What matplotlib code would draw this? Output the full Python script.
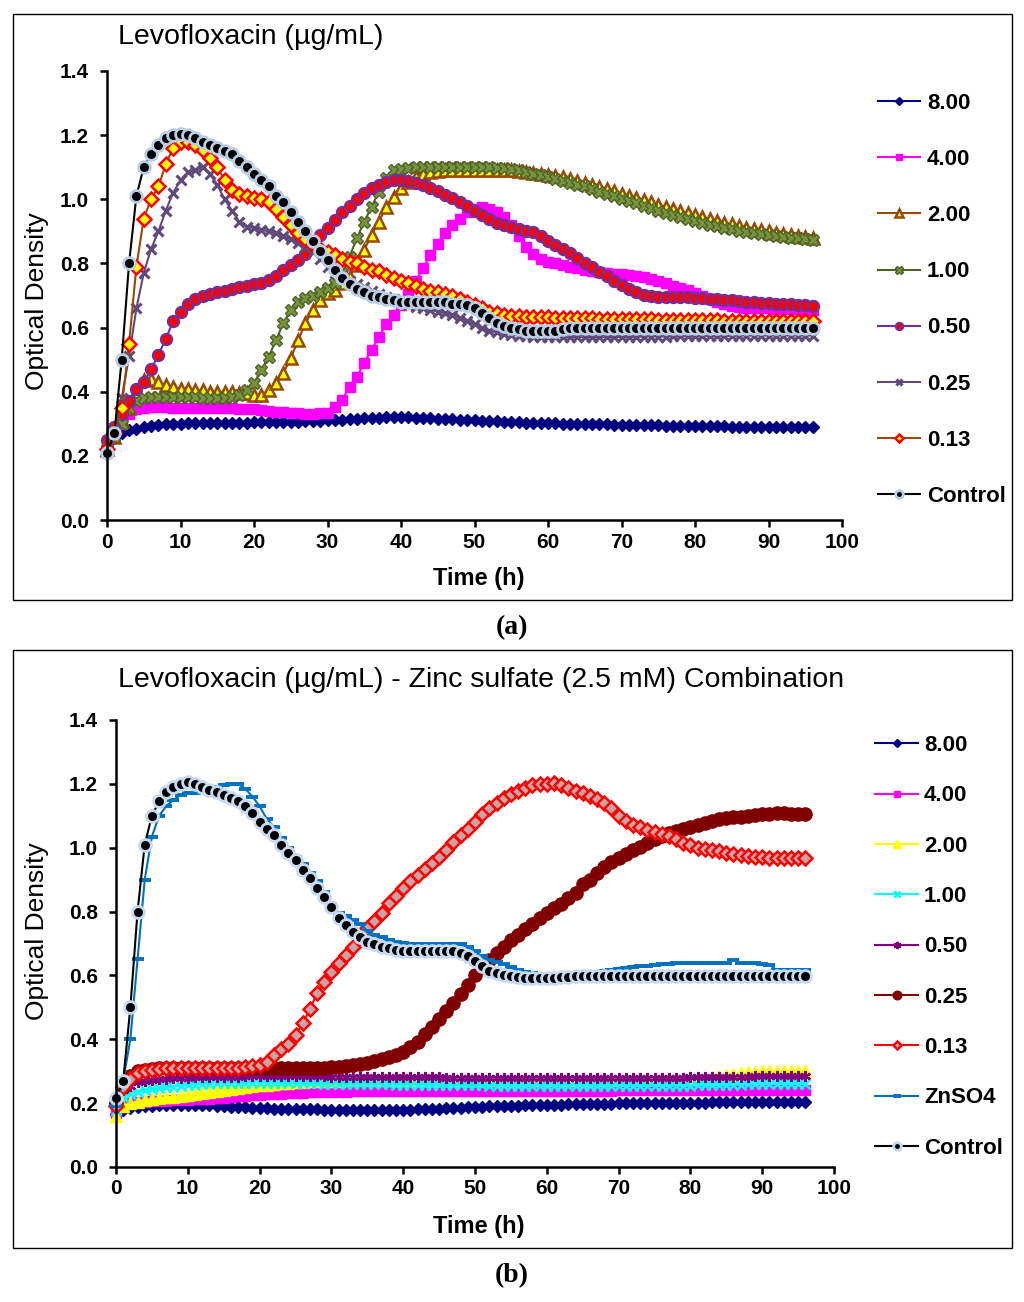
import matplotlib
matplotlib.use("Agg")
import matplotlib.pyplot as plt
from matplotlib.patches import Rectangle

plt.rcParams['font.family'] = ['Liberation Sans', 'DejaVu Sans']

hours = list(range(0, 97))

# ---------------- panel (a): levofloxacin alone ----------------
a_labels = ['8.00', '4.00', '2.00', '1.00', '0.50', '0.25', '0.13', 'Control']

a_800 = [0.23, 0.255, 0.27, 0.28, 0.285, 0.29, 0.293, 0.296, 0.298, 0.30,
         0.30, 0.301, 0.302, 0.302, 0.303, 0.303, 0.303, 0.304, 0.304, 0.304,
         0.305, 0.305, 0.305, 0.305, 0.306, 0.306, 0.307, 0.308, 0.309, 0.31,
         0.311, 0.312, 0.313, 0.315, 0.316, 0.317, 0.318, 0.319, 0.32, 0.32,
         0.32, 0.32, 0.319, 0.318, 0.317, 0.316, 0.315, 0.314, 0.313, 0.312,
         0.311, 0.31, 0.309, 0.308, 0.307, 0.306, 0.305, 0.304, 0.303, 0.302,
         0.302, 0.301, 0.30, 0.30, 0.30, 0.299, 0.299, 0.298, 0.298, 0.297,
         0.297, 0.296, 0.296, 0.295, 0.295, 0.295, 0.294, 0.294, 0.294, 0.293,
         0.293, 0.293, 0.292, 0.292, 0.292, 0.291, 0.291, 0.291, 0.29, 0.29,
         0.29, 0.29, 0.29, 0.29, 0.29, 0.29, 0.29]

a_400 = [0.23, 0.26, 0.30, 0.33, 0.345, 0.35, 0.352, 0.352, 0.352, 0.35,
         0.35, 0.35, 0.35, 0.35, 0.35, 0.35, 0.35, 0.348, 0.347, 0.346,
         0.345, 0.343, 0.34, 0.338, 0.336, 0.334, 0.333, 0.332, 0.332, 0.333,
         0.335, 0.352, 0.374, 0.416, 0.447, 0.49, 0.53, 0.572, 0.61, 0.64,
         0.67, 0.705, 0.745, 0.785, 0.825, 0.86, 0.895, 0.92, 0.94, 0.96,
         0.97, 0.975, 0.97, 0.96, 0.945, 0.92, 0.885, 0.852, 0.83, 0.815,
         0.805, 0.80, 0.795, 0.79, 0.785, 0.78, 0.777, 0.774, 0.771, 0.768,
         0.766, 0.764, 0.761, 0.757, 0.752, 0.746, 0.738, 0.73, 0.724, 0.718,
         0.708, 0.698, 0.688, 0.679, 0.672, 0.667, 0.664, 0.662, 0.661, 0.66,
         0.66, 0.659, 0.658, 0.658, 0.657, 0.656, 0.655]

a_200 = [0.22, 0.26, 0.31, 0.35, 0.40, 0.435, 0.44, 0.43, 0.42, 0.415,
         0.41, 0.41, 0.405, 0.405, 0.40, 0.40, 0.40, 0.40, 0.395, 0.395,
         0.39, 0.39, 0.405, 0.427, 0.458, 0.505, 0.56, 0.613, 0.655, 0.686,
         0.707, 0.717, 0.738, 0.759, 0.795, 0.842, 0.889, 0.93, 0.977, 1.008,
         1.035, 1.055, 1.07, 1.08, 1.085, 1.088, 1.09, 1.09, 1.09, 1.09,
         1.09, 1.09, 1.09, 1.09, 1.09, 1.09, 1.088, 1.086, 1.083, 1.08,
         1.076, 1.072, 1.068, 1.063, 1.058, 1.052, 1.046, 1.039, 1.032, 1.025,
         1.018, 1.011, 1.004, 0.997, 0.99, 0.983, 0.976, 0.969, 0.962, 0.956,
         0.95, 0.944, 0.938, 0.932, 0.927, 0.922, 0.917, 0.912, 0.908, 0.904,
         0.90, 0.896, 0.892, 0.889, 0.886, 0.883, 0.88]

a_100 = [0.22, 0.26, 0.30, 0.35, 0.37, 0.38, 0.385, 0.385, 0.385, 0.385,
         0.385, 0.383, 0.382, 0.38, 0.38, 0.38, 0.38, 0.382, 0.39, 0.405,
         0.427, 0.468, 0.509, 0.561, 0.614, 0.655, 0.68, 0.692, 0.70, 0.712,
         0.723, 0.738, 0.77, 0.821, 0.879, 0.93, 0.977, 1.024, 1.066, 1.09,
         1.095, 1.098, 1.10, 1.10, 1.10, 1.10, 1.10, 1.10, 1.10, 1.10,
         1.10, 1.10, 1.10, 1.098, 1.096, 1.093, 1.09, 1.086, 1.08, 1.075,
         1.07, 1.064, 1.058, 1.052, 1.046, 1.04, 1.032, 1.024, 1.017, 1.01,
         1.002, 0.994, 0.987, 0.98, 0.972, 0.965, 0.958, 0.951, 0.945, 0.938,
         0.932, 0.926, 0.921, 0.916, 0.911, 0.907, 0.902, 0.898, 0.894, 0.891,
         0.888, 0.885, 0.882, 0.88, 0.878, 0.876, 0.874]

a_050 = [0.25, 0.29, 0.33, 0.37, 0.41, 0.43, 0.47, 0.515, 0.565, 0.62,
         0.65, 0.675, 0.69, 0.70, 0.705, 0.71, 0.715, 0.72, 0.725, 0.73,
         0.735, 0.74, 0.748, 0.76, 0.78, 0.795, 0.81, 0.83, 0.865, 0.89,
         0.91, 0.935, 0.96, 0.98, 1.00, 1.02, 1.035, 1.045, 1.055, 1.06,
         1.06, 1.058, 1.052, 1.046, 1.036, 1.025, 1.014, 1.003, 0.993, 0.978,
         0.964, 0.951, 0.937, 0.927, 0.92, 0.915, 0.907, 0.902, 0.898, 0.884,
         0.87, 0.857, 0.845, 0.834, 0.817, 0.802, 0.788, 0.774, 0.761, 0.746,
         0.733, 0.719, 0.71, 0.702, 0.697, 0.695, 0.695, 0.696, 0.695, 0.694,
         0.693, 0.692, 0.69, 0.688, 0.686, 0.685, 0.683, 0.681, 0.68, 0.678,
         0.677, 0.675, 0.674, 0.672, 0.671, 0.67, 0.668]

a_025 = [0.23, 0.28, 0.38, 0.51, 0.66, 0.77, 0.845, 0.90, 0.965, 1.02,
         1.06, 1.085, 1.09, 1.10, 1.08, 1.045, 1.00, 0.965, 0.93, 0.915,
         0.91, 0.905, 0.90, 0.895, 0.885, 0.875, 0.865, 0.85, 0.835, 0.815,
         0.79, 0.77, 0.76, 0.745, 0.735, 0.725, 0.715, 0.705, 0.695, 0.69,
         0.68, 0.67, 0.665, 0.66, 0.655, 0.65, 0.645, 0.64, 0.63, 0.62,
         0.61, 0.60, 0.59, 0.585, 0.58, 0.578, 0.575, 0.573, 0.572, 0.572,
         0.571, 0.57, 0.57, 0.57, 0.57, 0.57, 0.57, 0.57, 0.57, 0.57,
         0.571, 0.571, 0.571, 0.572, 0.572, 0.572, 0.572, 0.573, 0.573, 0.573,
         0.573, 0.574, 0.574, 0.574, 0.574, 0.574, 0.575, 0.575, 0.575, 0.575,
         0.575, 0.575, 0.575, 0.575, 0.575, 0.575, 0.575]

a_013 = [0.22, 0.27, 0.35, 0.55, 0.79, 0.94, 1.00, 1.04, 1.11, 1.16,
         1.18, 1.18, 1.17, 1.155, 1.13, 1.10, 1.06, 1.03, 1.015, 1.01,
         1.005, 1.00, 0.99, 0.97, 0.945, 0.92, 0.895, 0.875, 0.86, 0.845,
         0.835, 0.825, 0.815, 0.805, 0.80, 0.79, 0.78, 0.775, 0.765, 0.755,
         0.745, 0.74, 0.73, 0.72, 0.715, 0.71, 0.705, 0.70, 0.69, 0.68,
         0.67, 0.66, 0.65, 0.645, 0.64, 0.637, 0.635, 0.634, 0.633, 0.632,
         0.632, 0.631, 0.63, 0.63, 0.63, 0.629, 0.629, 0.628, 0.628, 0.628,
         0.627, 0.627, 0.626, 0.626, 0.626, 0.625, 0.625, 0.625, 0.625, 0.624,
         0.624, 0.623, 0.623, 0.623, 0.622, 0.622, 0.622, 0.621, 0.621, 0.621,
         0.62, 0.62, 0.62, 0.62, 0.62, 0.62, 0.62]

a_ctrl = [0.21, 0.27, 0.50, 0.80, 1.01, 1.10, 1.14, 1.17, 1.19, 1.20,
          1.205, 1.20, 1.19, 1.18, 1.17, 1.16, 1.15, 1.14, 1.12, 1.10,
          1.08, 1.06, 1.04, 1.01, 0.99, 0.96, 0.93, 0.90, 0.87, 0.84,
          0.81, 0.78, 0.755, 0.735, 0.72, 0.71, 0.70, 0.695, 0.69, 0.685,
          0.68, 0.68, 0.68, 0.68, 0.68, 0.68, 0.68, 0.675, 0.675, 0.67,
          0.66, 0.645, 0.63, 0.615, 0.605, 0.60, 0.595, 0.59, 0.59, 0.59,
          0.59, 0.59, 0.595, 0.60, 0.60, 0.60, 0.60, 0.60, 0.60, 0.60,
          0.60, 0.60, 0.60, 0.60, 0.60, 0.60, 0.60, 0.60, 0.60, 0.60,
          0.60, 0.60, 0.60, 0.60, 0.60, 0.60, 0.60, 0.60, 0.60, 0.60,
          0.60, 0.60, 0.60, 0.60, 0.60, 0.60, 0.60]

# ---------------- panel (b): levofloxacin + zinc sulfate ----------------
b_labels = ['8.00', '4.00', '2.00', '1.00', '0.50', '0.25', '0.13', 'ZnSO4', 'Control']

b_800 = [0.165, 0.18, 0.185, 0.188, 0.19, 0.192, 0.193, 0.194, 0.195, 0.195,
         0.195, 0.195, 0.194, 0.193, 0.192, 0.19, 0.189, 0.188, 0.187, 0.186,
         0.185, 0.184, 0.183, 0.183, 0.182, 0.182, 0.182, 0.181, 0.181, 0.18,
         0.18, 0.18, 0.18, 0.18, 0.18, 0.18, 0.18, 0.18, 0.18, 0.18,
         0.18, 0.18, 0.181, 0.181, 0.182, 0.183, 0.184, 0.185, 0.186, 0.187,
         0.188, 0.189, 0.19, 0.19, 0.191, 0.192, 0.192, 0.193, 0.193, 0.194,
         0.194, 0.195, 0.195, 0.196, 0.196, 0.197, 0.197, 0.198, 0.198, 0.198,
         0.199, 0.199, 0.199, 0.20, 0.20, 0.20, 0.20, 0.201, 0.201, 0.201,
         0.202, 0.202, 0.202, 0.203, 0.203, 0.203, 0.204, 0.204, 0.204, 0.204,
         0.205, 0.205, 0.205, 0.205, 0.205, 0.205, 0.205]

b_400 = [0.17, 0.19, 0.20, 0.203, 0.205, 0.206, 0.207, 0.208, 0.209, 0.21,
         0.211, 0.212, 0.213, 0.214, 0.215, 0.217, 0.219, 0.221, 0.223, 0.225,
         0.227, 0.228, 0.229, 0.23, 0.231, 0.232, 0.233, 0.234, 0.235, 0.235,
         0.236, 0.236, 0.236, 0.237, 0.237, 0.237, 0.237, 0.238, 0.238, 0.238,
         0.238, 0.238, 0.238, 0.238, 0.238, 0.238, 0.238, 0.238, 0.238, 0.238,
         0.238, 0.238, 0.238, 0.238, 0.238, 0.238, 0.238, 0.238, 0.238, 0.238,
         0.238, 0.239, 0.239, 0.239, 0.239, 0.239, 0.239, 0.239, 0.239, 0.239,
         0.24, 0.24, 0.24, 0.24, 0.24, 0.24, 0.24, 0.24, 0.24, 0.24,
         0.24, 0.24, 0.24, 0.24, 0.24, 0.24, 0.24, 0.24, 0.24, 0.24,
         0.24, 0.24, 0.24, 0.24, 0.24, 0.24, 0.24]

b_200 = [0.16, 0.19, 0.20, 0.205, 0.21, 0.212, 0.215, 0.218, 0.22, 0.223,
         0.226, 0.229, 0.232, 0.235, 0.238, 0.241, 0.244, 0.247, 0.25, 0.253,
         0.256, 0.258, 0.26, 0.262, 0.264, 0.266, 0.267, 0.268, 0.269, 0.27,
         0.27, 0.27, 0.271, 0.271, 0.271, 0.272, 0.272, 0.272, 0.272, 0.272,
         0.272, 0.272, 0.272, 0.272, 0.272, 0.272, 0.272, 0.272, 0.272, 0.272,
         0.273, 0.273, 0.273, 0.273, 0.273, 0.273, 0.273, 0.273, 0.273, 0.273,
         0.274, 0.274, 0.274, 0.274, 0.274, 0.274, 0.274, 0.274, 0.274, 0.274,
         0.275, 0.275, 0.275, 0.275, 0.275, 0.275, 0.275, 0.275, 0.275, 0.275,
         0.276, 0.278, 0.28, 0.283, 0.286, 0.289, 0.292, 0.294, 0.296, 0.298,
         0.30, 0.30, 0.301, 0.302, 0.302, 0.302, 0.30]

b_100 = [0.18, 0.22, 0.23, 0.235, 0.24, 0.243, 0.246, 0.25, 0.252, 0.255,
         0.256, 0.258, 0.26, 0.26, 0.262, 0.262, 0.263, 0.263, 0.264, 0.264,
         0.264, 0.264, 0.264, 0.263, 0.263, 0.263, 0.262, 0.262, 0.262, 0.261,
         0.261, 0.261, 0.26, 0.26, 0.26, 0.26, 0.259, 0.259, 0.259, 0.258,
         0.258, 0.258, 0.258, 0.257, 0.257, 0.257, 0.257, 0.256, 0.256, 0.256,
         0.256, 0.256, 0.255, 0.255, 0.255, 0.255, 0.255, 0.255, 0.255, 0.255,
         0.255, 0.255, 0.255, 0.255, 0.255, 0.255, 0.255, 0.255, 0.255, 0.255,
         0.255, 0.255, 0.255, 0.255, 0.255, 0.255, 0.255, 0.255, 0.255, 0.255,
         0.255, 0.256, 0.256, 0.256, 0.257, 0.257, 0.258, 0.258, 0.259, 0.259,
         0.26, 0.26, 0.26, 0.26, 0.26, 0.26, 0.26]

b_050 = [0.19, 0.24, 0.255, 0.265, 0.27, 0.272, 0.275, 0.277, 0.278, 0.28,
         0.28, 0.281, 0.281, 0.282, 0.282, 0.283, 0.283, 0.283, 0.284, 0.284,
         0.284, 0.284, 0.284, 0.284, 0.284, 0.284, 0.284, 0.284, 0.284, 0.284,
         0.283, 0.283, 0.283, 0.283, 0.283, 0.283, 0.282, 0.282, 0.282, 0.282,
         0.282, 0.281, 0.281, 0.281, 0.281, 0.281, 0.28, 0.28, 0.28, 0.28,
         0.28, 0.28, 0.28, 0.28, 0.28, 0.28, 0.28, 0.28, 0.28, 0.28,
         0.28, 0.28, 0.28, 0.28, 0.28, 0.28, 0.28, 0.28, 0.28, 0.28,
         0.28, 0.28, 0.28, 0.28, 0.28, 0.28, 0.28, 0.28, 0.28, 0.28,
         0.281, 0.281, 0.281, 0.282, 0.282, 0.282, 0.283, 0.283, 0.283, 0.284,
         0.284, 0.284, 0.284, 0.284, 0.284, 0.284, 0.284]

b_025 = [0.20, 0.25, 0.285, 0.30, 0.305, 0.308, 0.31, 0.31, 0.31, 0.31,
         0.31, 0.31, 0.31, 0.31, 0.31, 0.31, 0.31, 0.31, 0.31, 0.31,
         0.31, 0.31, 0.31, 0.31, 0.31, 0.31, 0.31, 0.31, 0.31, 0.31,
         0.312, 0.314, 0.316, 0.318, 0.322, 0.326, 0.332, 0.338, 0.345, 0.352,
         0.36, 0.375, 0.39, 0.415, 0.44, 0.465, 0.49, 0.515, 0.542, 0.57,
         0.60, 0.625, 0.648, 0.67, 0.69, 0.71, 0.728, 0.745, 0.762, 0.78,
         0.795, 0.81, 0.825, 0.842, 0.858, 0.885, 0.90, 0.92, 0.94, 0.955,
         0.968, 0.98, 0.992, 1.003, 1.015, 1.027, 1.037, 1.045, 1.053, 1.06,
         1.066, 1.072, 1.077, 1.083, 1.09, 1.093, 1.095, 1.097, 1.10, 1.103,
         1.105, 1.107, 1.108, 1.108, 1.107, 1.106, 1.105]

b_013 = [0.19, 0.25, 0.275, 0.295, 0.30, 0.305, 0.308, 0.31, 0.31, 0.31,
         0.31, 0.31, 0.31, 0.31, 0.31, 0.31, 0.31, 0.31, 0.312, 0.315,
         0.32, 0.33, 0.35, 0.37, 0.385, 0.413, 0.45, 0.494, 0.544, 0.58,
         0.612, 0.638, 0.664, 0.69, 0.721, 0.75, 0.77, 0.794, 0.826, 0.85,
         0.875, 0.895, 0.915, 0.933, 0.951, 0.972, 0.993, 1.019, 1.04, 1.06,
         1.082, 1.105, 1.125, 1.14, 1.157, 1.168, 1.179, 1.188, 1.195, 1.198,
         1.20, 1.204, 1.197, 1.188, 1.178, 1.17, 1.163, 1.152, 1.14, 1.125,
         1.10, 1.085, 1.072, 1.064, 1.057, 1.05, 1.044, 1.036, 1.026, 1.016,
         1.007, 0.999, 0.996, 0.993, 0.99, 0.985, 0.981, 0.978, 0.974, 0.971,
         0.97, 0.969, 0.969, 0.968, 0.968, 0.968, 0.968]

b_zn = [0.19, 0.27, 0.40, 0.65, 0.90, 1.035, 1.10, 1.13, 1.15, 1.165,
        1.17, 1.17, 1.175, 1.185, 1.19, 1.195, 1.20, 1.20, 1.185, 1.16,
        1.13, 1.09, 1.065, 1.03, 1.00, 0.97, 0.95, 0.92, 0.895, 0.86,
        0.825, 0.795, 0.785, 0.775, 0.76, 0.74, 0.728, 0.72, 0.712, 0.706,
        0.703, 0.70, 0.70, 0.70, 0.70, 0.70, 0.70, 0.70, 0.70, 0.69,
        0.675, 0.66, 0.648, 0.642, 0.635, 0.625, 0.618, 0.612, 0.608, 0.606,
        0.604, 0.602, 0.601, 0.602, 0.604, 0.606, 0.608, 0.61, 0.613, 0.616,
        0.619, 0.622, 0.625, 0.628, 0.631, 0.633, 0.635, 0.637, 0.638, 0.639,
        0.64, 0.64, 0.64, 0.64, 0.64, 0.64, 0.648, 0.64, 0.64, 0.638,
        0.636, 0.634, 0.617, 0.617, 0.617, 0.617, 0.617]

b_ctrl = [0.215, 0.27, 0.50, 0.80, 1.01, 1.10, 1.145, 1.175, 1.19, 1.20,
          1.205, 1.20, 1.19, 1.18, 1.175, 1.165, 1.155, 1.145, 1.13, 1.11,
          1.08, 1.06, 1.04, 1.01, 0.985, 0.96, 0.93, 0.905, 0.875, 0.847,
          0.815, 0.78, 0.758, 0.737, 0.721, 0.706, 0.698, 0.69, 0.685, 0.68,
          0.678, 0.678, 0.678, 0.678, 0.678, 0.678, 0.677, 0.675, 0.67, 0.66,
          0.645, 0.628, 0.615, 0.607, 0.60, 0.597, 0.594, 0.592, 0.591, 0.591,
          0.591, 0.592, 0.594, 0.596, 0.597, 0.598, 0.598, 0.598, 0.598, 0.598,
          0.598, 0.598, 0.598, 0.598, 0.598, 0.598, 0.598, 0.598, 0.598, 0.598,
          0.598, 0.598, 0.598, 0.598, 0.598, 0.598, 0.598, 0.598, 0.598, 0.598,
          0.598, 0.598, 0.598, 0.598, 0.598, 0.598, 0.598]

# line colour, marker, marker face, marker edge, marker size, edge width
a_styles = [
    ('#000080', 'D', '#000080', '#000080', 6.5, 1.0),
    ('#FF00FF', 's', '#FF00FF', '#FF00FF', 7.5, 1.0),
    ('#984807', '^', '#FFFF00', '#984807', 8.0, 1.8),
    ('#4F6228', 'X', '#77933C', '#4F6228', 8.5, 1.0),
    ('#7030A0', 'o', '#FF0000', '#7030A0', 8.0, 1.6),
    ('#604A7B', 'x', '#604A7B', '#604A7B', 7.0, 2.2),
    ('#984807', 'D', '#FFFF00', '#FF0000', 7.0, 1.8),
    ('#000000', 'o', '#000000', '#B9CDE5', 8.5, 2.0),
]
b_styles = [
    ('#000080', 'D', '#000080', '#000080', 6.5, 1.0),
    ('#FF00FF', 's', '#FF00FF', '#FF00FF', 7.5, 1.0),
    ('#FFFF00', '^', '#FFFF00', '#FFFF00', 8.0, 1.0),
    ('#00FFFF', 'x', '#00FFFF', '#00FFFF', 7.0, 1.8),
    ('#800080', (6, 2, 0), '#800080', '#800080', 8.0, 1.6),
    ('#800000', 'o', '#800000', '#800000', 9.5, 1.0),
    ('#FF0000', 'D', '#C8A5A5', '#FF0000', 7.0, 1.8),
    ('#0070C0', '_', '#0070C0', '#0070C0', 8.5, 2.8),
    ('#000000', 'o', '#000000', '#C6D9F1', 8.5, 2.0),
]

W, H = 1024, 1302
fig = plt.figure(figsize=(W / 100, H / 100), dpi=100)


def px_box(x0, y0, x1, y1):
    return [x0 / W, 1 - y1 / H, (x1 - x0) / W, (y1 - y0) / H]


def style_axes(ax):
    ax.set_xlim(0, 100)
    ax.set_ylim(0, 1.4)
    ax.set_xticks(range(0, 101, 10))
    ax.set_yticks([0.0, 0.2, 0.4, 0.6, 0.8, 1.0, 1.2, 1.4])
    ax.set_yticklabels(['%.1f' % v for v in ax.get_yticks()])
    for s in ['top', 'right']:
        ax.spines[s].set_visible(False)
    for s in ['left', 'bottom']:
        ax.spines[s].set_linewidth(1.8)
    ax.tick_params(axis='both', direction='out', length=5, width=1.8,
                   labelsize=15)
    ax.tick_params(axis='x', pad=4)
    ax.tick_params(axis='y', pad=8)
    for lab in ax.get_xticklabels() + ax.get_yticklabels():
        lab.set_fontweight('bold')


def draw(ax, series, labels, styles):
    handles = []
    for ys, lab, st in zip(series, labels, styles):
        col, mk, fc, ec, ms, mew = st
        h, = ax.plot(hours, ys, color=col, lw=1.5, marker=mk, ms=ms,
                     mfc=fc, mec=ec, mew=mew, label=lab, clip_on=False)
        handles.append(h)
    return handles


# panel (a)
ax1 = fig.add_axes(px_box(107, 71, 842, 520))
style_axes(ax1)
h1 = draw(ax1, [a_800, a_400, a_200, a_100, a_050, a_025, a_013, a_ctrl],
          a_labels, a_styles)
ax1.legend(h1, a_labels, loc='upper left', bbox_to_anchor=(878 / W, 1 - 93 / H),
           bbox_transform=fig.transFigure, frameon=False, borderpad=0,
           borderaxespad=0, handlelength=1.9, handletextpad=0.3,
           labelspacing=1.58, markerscale=0.65,
           prop={'weight': 'bold', 'size': 16})

# panel (b)
ax2 = fig.add_axes(px_box(116, 720, 834, 1167))
style_axes(ax2)
h2 = draw(ax2, [b_800, b_400, b_200, b_100, b_050, b_025, b_013, b_zn, b_ctrl],
          b_labels, b_styles)
ax2.legend(h2, b_labels, loc='upper left', bbox_to_anchor=(875 / W, 1 - 735 / H),
           bbox_transform=fig.transFigure, frameon=False, borderpad=0,
           borderaxespad=0, handlelength=1.95, handletextpad=0.25,
           labelspacing=1.32, markerscale=0.65,
           prop={'weight': 'bold', 'size': 16})

# texts
fig.text(118 / W, 1 - 37 / H, 'Levofloxacin (µg/mL)', fontsize=20.5,
         ha='left', va='center')
fig.text(481 / W, 1 - 680 / H,
         'Levofloxacin (µg/mL) - Zinc sulfate (2.5 mM) Combination',
         fontsize=20.5, ha='center', va='center')
for yc in (301, 931):
    fig.text(37 / W, 1 - yc / H, 'Optical Density', fontsize=19,
             rotation=90, ha='center', va='center')
for yc in (578, 1227):
    fig.text(479 / W, 1 - yc / H, 'Time (h)', fontsize=17,
             fontweight='bold', ha='center', va='center')
fig.text(512 / W, 1 - 628 / H, '(a)', fontsize=20, fontweight='bold',
         family='Liberation Serif', ha='center', va='center')
fig.text(512 / W, 1 - 1276 / H, '(b)', fontsize=20, fontweight='bold',
         family='Liberation Serif', ha='center', va='center')

# panel frames
fig.add_artist(Rectangle((13 / W, 1 - 600 / H), 999 / W, 586 / H,
                         transform=fig.transFigure, fill=False, lw=1.0,
                         ec='black'))
fig.add_artist(Rectangle((13 / W, 1 - 1248 / H), 999 / W, 598 / H,
                         transform=fig.transFigure, fill=False, lw=1.0,
                         ec='black'))

fig.savefig('out.png', dpi=100)
